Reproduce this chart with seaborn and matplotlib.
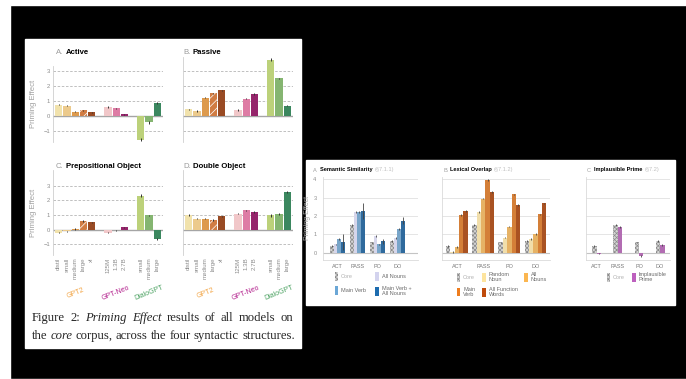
import pandas as pd
import seaborn as sns
import matplotlib.pyplot as plt
from matplotlib.patches import Patch, Rectangle

sns.set_style("white")
plt.rcParams["font.family"] = ["Liberation Sans", "DejaVu Sans"]
plt.rcParams["hatch.linewidth"] = 0.5

W, H = 686, 379

# ---- Figure 2: priming effect of every model on the core corpus ----
model_sizes = ["distil", "small", "medium", "large", "xl",
               "125M", "1.3B", "2.7B",
               "small", "medium", "large"]
model_families = ["GPT2"] * 5 + ["GPT-Neo"] * 3 + ["DialoGPT"] * 3
family_names = ["GPT2", "GPT-Neo", "DialoGPT"]

active = [0.75, 0.68, 0.28, 0.35, 0.22, 0.58, 0.50, 0.10, -1.60, -0.45, 0.85]
passive = [0.42, 0.30, 1.22, 1.50, 1.70, 0.40, 1.15, 1.45, 3.75, 2.50, 0.68]
prep_object = [-0.20, -0.10, 0.05, 0.58, 0.50, -0.20, -0.05, 0.17, 2.32, 0.97, -0.62]
double_object = [0.98, 0.75, 0.75, 0.65, 0.90, 1.10, 1.32, 1.20, 0.98, 1.08, 2.58]

active_err = [0.06, 0.05, 0.04, 0.05, 0.04, 0.05, 0.05, 0.04, 0.10, 0.08, 0.06]
passive_err = [0.06, 0.05, 0.05, 0.05, 0.05, 0.06, 0.05, 0.05, 0.10, 0.06, 0.05]
prep_object_err = [0.05, 0.04, 0.04, 0.05, 0.04, 0.05, 0.04, 0.04, 0.08, 0.06, 0.05]
double_object_err = [0.06, 0.04, 0.04, 0.05, 0.05, 0.05, 0.04, 0.04, 0.10, 0.05, 0.05]

caption_line1 = [("Figure", "normal"), ("2:", "normal"), ("Priming", "italic"),
                 ("Effect", "italic"), ("results", "normal"), ("of", "normal"),
                 ("all", "normal"), ("models", "normal"), ("on", "normal")]
caption_line2 = [("the", "normal"), ("core", "italic"), ("corpus,", "normal"),
                 ("across", "normal"), ("the", "normal"), ("four", "normal"),
                 ("syntactic", "normal"), ("structures.", "normal")]

# ---- Section 7 results: priming effect per structure ----
structures = ["ACT", "PASS", "PO", "DO"]
core = [0.37, 1.49, 0.57, 0.65]
core_err = [0.04, 0.05, 0.04, 0.04]

sem_all_nouns = [0.45, 2.20, 0.92, 0.80]
sem_main_verb = [0.73, 2.22, 0.45, 1.28]
sem_verb_nouns = [0.58, 2.28, 0.62, 1.75]
sem_all_nouns_err = [0.05, 0.06, 0.05, 0.05]
sem_main_verb_err = [0.05, 0.05, 0.04, 0.05]
sem_verb_nouns_err = [0.42, 0.45, 0.15, 0.20]

lex_random_noun = [0.05, 2.20, 0.82, 0.75]
lex_all_nouns = [0.32, 2.95, 1.42, 1.02]
lex_main_verb = [2.05, 3.97, 3.18, 2.09]
lex_function_words = [2.26, 3.29, 2.60, 2.69]
lex_err = [0.04, 0.05, 0.04, 0.04]

implausible = [-0.05, 1.38, -0.18, 0.42]
implausible_err = [0.03, 0.05, 0.04, 0.04]

GREY = "#8c8c8c"
gpt2_colors = ["#fde8a0", "#fccf7c", "#f59c35", "#e8782c", "#ad4510"]
neo_colors = ["#f8c0c2", "#ee6ca2", "#a8126f"]
dialo_colors = ["#c4e06b", "#80c066", "#2e945e"]
family_colors = {"GPT2": "#f2a444", "GPT-Neo": "#b3218d", "DialoGPT": "#4ca262"}
core_face, core_hatch, core_pattern = "#d4d4d4", "#8a8a8a", "xxxxxxxx"

fig = plt.figure(figsize=(W / 100, H / 100), dpi=100, facecolor="white")
fig.patches.append(Rectangle((10 / W, 0), 1, 1 - 5 / H, transform=fig.transFigure,
                             facecolor="black", zorder=-10))
fig.patches.append(Rectangle((25 / W, 1 - 348 / H), 276 / W, 309 / H,
                             transform=fig.transFigure, facecolor="white", zorder=-9))
fig.patches.append(Rectangle((306 / W, 1 - 305 / H), 369 / W, 145 / H,
                             transform=fig.transFigure, facecolor="white", zorder=-9))


def rect(x0, x1, zero_y, ppu, ylim):
    top = zero_y - ylim[1] * ppu
    bottom = zero_y - ylim[0] * ppu
    return [x0 / W, 1 - bottom / H, (x1 - x0) / W, (bottom - top) / H]


def chained(x, y, parts, size):
    first, color, weight = parts[0][:3]
    prev = fig.text(x / W, 1 - y / H, first, color=color, fontweight=weight,
                    fontsize=size, va="center", ha="left")
    for text, color, weight, gap in parts[1:]:
        prev = fig.axes[0].annotate(text, xy=(1, 0), xycoords=prev, xytext=(gap, 0),
                                    textcoords="offset points", va="bottom", ha="left",
                                    color=color, fontweight=weight, fontsize=size,
                                    annotation_clip=False)
    return prev


def caption_word_widths(words, size):
    renderer = fig.canvas.get_renderer()
    texts = [fig.text(0, 0, w, fontstyle=s, family="Liberation Serif", fontsize=size)
             for w, s in words]
    widths = [t.get_window_extent(renderer).width for t in texts]
    for t in texts:
        t.remove()
    return widths


def caption_line(x0, y, words, size, x1=None):
    # natural word spacing, or stretched to x1 like a justified LaTeX line
    widths = caption_word_widths(words, size)
    gap = 0.25 * size * 100 / 72
    if x1 is not None:
        gap = (x1 - x0 - sum(widths)) / (len(words) - 1)
    x = x0
    for (w, s), wd in zip(words, widths):
        fig.text(x / W, 1 - y / H, w, fontstyle=s, family="Liberation Serif",
                 fontsize=size, va="baseline", ha="left")
        x += wd + gap


# caption size chosen so that the natural second line spans the column width
probe = 9.0
probe_widths = caption_word_widths(caption_line2, probe)
cap_size = 261 / (sum(probe_widths) / probe + (len(caption_line2) - 1) * 0.25 * 100 / 72)

# categorical slots with one empty slot between model families
slot_order = []
for fam in family_names:
    if slot_order:
        slot_order.append(" " * len(slot_order))
    slot_order += [f"{f} {m}" for f, m in zip(model_families, model_sizes) if f == fam]
bar_keys = [f"{f} {m}" for f, m in zip(model_families, model_sizes)]
bar_slots = [slot_order.index(k) for k in bar_keys]
bar_colors = gpt2_colors + neo_colors + dialo_colors


def fig2_panel(r, values, errors, ylim, yticks, xticks):
    ax = fig.add_axes(r)
    sns.barplot(x=bar_keys, y=values, order=slot_order, hue=bar_keys, palette=bar_colors,
                dodge=False, width=0.88, legend=False, errorbar=None, linewidth=0, ax=ax)
    hatched = bar_slots[model_sizes.index("large")]
    for bar in ax.patches:
        if abs(bar.get_x() + bar.get_width() / 2 - hatched) < 1e-6:
            bar.set_hatch("////")
            bar.set_edgecolor("white")
            bar.set_linewidth(0)
    ax.errorbar(bar_slots, values, yerr=errors, fmt="none", ecolor="#333333",
                elinewidth=0.7, capsize=0, zorder=3)
    ax.set_xlim(-0.7, len(slot_order) - 0.3)
    ax.set_ylim(*ylim)
    for v in [-1, 1, 2, 3]:
        ax.axhline(v, color="#b5b5b5", lw=0.6, ls=(0, (3, 2)), zorder=0)
    ax.axhline(0, color="#a5a5a5", lw=1.0, zorder=0.5)
    for s in ["top", "right", "bottom"]:
        ax.spines[s].set_visible(False)
    ax.spines["left"].set_color("#cfcfcf")
    ax.spines["left"].set_linewidth(0.6)
    ax.set_yticks([-1, 0, 1, 2, 3])
    ax.tick_params(axis="both", length=0, labelsize=4.2, labelcolor=GREY)
    ax.tick_params(axis="y", pad=2)
    if not yticks:
        ax.set_yticklabels([])
    if xticks:
        ax.set_xticks(bar_slots)
        ax.set_xticklabels(model_sizes, rotation=90, fontsize=4.4, color=GREY)
        ax.tick_params(axis="x", pad=1.5)
        for fam in family_names:
            idx = [p for p, f in zip(bar_slots, model_families) if f == fam]
            ax.text(sum(idx) / len(idx), -0.44, fam, transform=ax.get_xaxis_transform(),
                    rotation=22, ha="center", va="center", fontsize=5,
                    color=family_colors[fam])
    else:
        ax.set_xticks([])
    ax.set_xlabel("")
    if yticks:
        ax.set_ylabel("Priming Effect", fontsize=5.6, color="#a0a0a0")
        ax.yaxis.set_label_coords(-0.145, 0.5)
    return ax


fig2_panel(rect(53, 163, 115.7, 14.9, (-1.75, 3.35)), active, active_err,
           (-1.75, 3.35), True, False)
fig2_panel(rect(183, 293, 115.7, 14.9, (-1.75, 3.95)), passive, passive_err,
           (-1.75, 3.95), False, False)
fig2_panel(rect(53, 163, 229.7, 14.7, (-1.75, 4.05)), prep_object, prep_object_err,
           (-1.75, 4.05), True, True)
fig2_panel(rect(183, 293, 229.7, 14.7, (-1.75, 4.05)), double_object, double_object_err,
           (-1.75, 4.05), False, True)

chained(56, 53, [("A.", "#9a9a9a", "normal"), ("Active", "black", "bold", 1.5)], 5.6)
chained(183, 53, [("B.", "#9a9a9a", "normal"), ("Passive", "black", "bold", 1.5)], 5.6)
chained(56, 167, [("C.", "#9a9a9a", "normal"), ("Prepositional Object", "black", "bold", 1.5)], 5.6)
chained(183, 167, [("D.", "#9a9a9a", "normal"), ("Double Object", "black", "bold", 1.5)], 5.6)

caption_line(32, 321, caption_line1, cap_size, x1=293)
caption_line(32, 339, caption_line2, cap_size)


# ---- right hand figure ----
def sec7_panel(r, conditions, series, errs, colors, width, xlim, yticks):
    ax = fig.add_axes(r)
    frame = pd.DataFrame({
        "structure": [s for _ in conditions for s in structures],
        "condition": [c for c in conditions for _ in structures],
        "value": [v for vals in series for v in vals],
    })
    sns.barplot(data=frame, x="structure", y="value", hue="condition",
                hue_order=conditions, palette=colors, width=width, errorbar=None,
                legend=False, linewidth=0, ax=ax)
    for cont, vals, err in zip(ax.containers, series, errs):
        xs = [b.get_x() + b.get_width() / 2 for b in cont]
        ax.errorbar(xs, vals, yerr=err, fmt="none", ecolor="#444444",
                    elinewidth=0.6, capsize=0, zorder=3)
    for b in ax.containers[0]:
        b.set_facecolor(core_face)
        b.set_hatch(core_pattern)
        b.set_edgecolor(core_hatch)
        b.set_linewidth(0)
    ax.set_xlim(*xlim)
    ax.set_ylim(-0.4, 4.15)
    for v in [1, 2, 3, 4]:
        ax.axhline(v, color="#e0e0e0", lw=0.6, zorder=0)
    ax.axhline(0, color="#c4c4c4", lw=0.8, zorder=0.5)
    for s in ["top", "right"]:
        ax.spines[s].set_visible(False)
    for s in ["left", "bottom"]:
        ax.spines[s].set_color("#dadada")
        ax.spines[s].set_linewidth(0.6)
    ax.set_yticks([0, 1, 2, 3, 4])
    ax.tick_params(axis="both", length=0, labelsize=4.0, labelcolor=GREY)
    ax.tick_params(axis="y", pad=4.5)
    ax.tick_params(axis="x", pad=3, labelcolor="#777777")
    ax.set_xlabel("")
    if yticks:
        ax.set_ylabel("Priming Effect", fontsize=5.0, color="#a8a8a8")
        ax.yaxis.set_label_coords(-0.125, 0.5)
    else:
        ax.set_yticklabels([])
        ax.set_ylabel("")
    return ax


def sec7_legend(ax, labels, colors, x, y, ncol, colspacing):
    handles = []
    for lab, col in zip(labels, colors):
        if lab == "Core":
            handles.append(Patch(facecolor=core_face, hatch=core_pattern,
                                 edgecolor=core_hatch, lw=0))
        else:
            handles.append(Patch(facecolor=col, lw=0))
    leg = ax.legend(handles, labels, loc="upper left", bbox_to_anchor=(x / W, 1 - y / H),
                    bbox_transform=fig.transFigure, ncol=ncol, frameon=False,
                    fontsize=4.0, handlelength=0.7, handleheight=2.1, handletextpad=0.5,
                    columnspacing=colspacing, labelspacing=0.9, borderpad=0, borderaxespad=0)
    for t in leg.get_texts():
        t.set_color("#b0b0b0" if t.get_text() == "Core" else "#6a6a6a")
        t.set_linespacing(1.0)


sem_colors = [core_face, "#d3d3ee", "#6ba7d6", "#1d6caf"]
sem_labels = ["Core", "All Nouns", "Main Verb", "Main Verb +\nAll Nouns"]
ax_a = sec7_panel(rect(322.7, 418, 252.7, 18.35, (-0.4, 4.15)), sem_labels,
                  [core, sem_all_nouns, sem_main_verb, sem_verb_nouns],
                  [core_err, sem_all_nouns_err, sem_main_verb_err, sem_verb_nouns_err],
                  sem_colors, 0.76, (-0.74, 4.03), True)
sec7_legend(ax_a, [sem_labels[i] for i in (0, 2, 1, 3)],
            [sem_colors[i] for i in (0, 2, 1, 3)], 334.5, 272, 2, 1.6)

lex_colors = [core_face, "#fde49e", "#fbb650", "#ee7d1e", "#bf4b0c"]
lex_labels = ["Core", "Random\nNoun", "All\nNouns", "Main\nVerb", "All Function\nWords"]
ax_b = sec7_panel(rect(442, 550, 252.7, 18.35, (-0.4, 4.15)), lex_labels,
                  [core, lex_random_noun, lex_all_nouns, lex_main_verb, lex_function_words],
                  [core_err] + [lex_err] * 4, lex_colors, 0.83, (-0.57, 3.55), False)
sec7_legend(ax_b, [lex_labels[i] for i in (0, 3, 1, 4, 2)],
            [lex_colors[i] for i in (0, 3, 1, 4, 2)], 456.5, 272, 3, 1.2)

imp_colors = [core_face, "#bd60be"]
imp_labels = ["Core", "Implausible\nPrime"]
ax_c = sec7_panel(rect(585.7, 670, 252.7, 18.35, (-0.4, 4.15)), imp_labels,
                  [core, implausible], [core_err, implausible_err],
                  imp_colors, 0.42, (-0.52, 3.47), False)
sec7_legend(ax_c, imp_labels, imp_colors, 606.5, 272, 2, 1.2)

chained(313, 170, [("A.", "#a0a0a0", "normal"), ("Semantic Similarity", "black", "bold", 1.2),
                   ("(§7.1.1)", "#c0c0c0", "normal", 1.5)], 4.1)
chained(443, 170, [("B.", "#a0a0a0", "normal"), ("Lexical Overlap", "black", "bold", 1.2),
                   ("(§7.1.2)", "#c0c0c0", "normal", 1.5)], 4.1)
chained(587, 170, [("C.", "#a0a0a0", "normal"), ("Implausible Prime", "black", "bold", 1.2),
                   ("(§7.2)", "#c0c0c0", "normal", 1.5)], 4.1)

fig.savefig("out.png", dpi=100, facecolor=fig.get_facecolor())
